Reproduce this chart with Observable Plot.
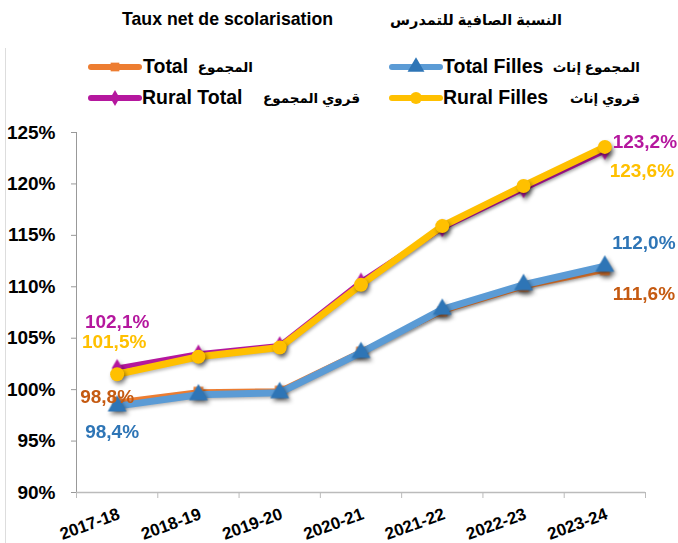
<!DOCTYPE html>
<html><head><meta charset="utf-8">
<script src="https://cdn.jsdelivr.net/npm/d3@7"></script>
<script src="https://cdn.jsdelivr.net/npm/@observablehq/plot@0.6"></script>
<style>
body{margin:0;background:#fff;font-family:"Liberation Sans","DejaVu Sans",Arial,sans-serif;}
#wrap{position:relative;width:678px;height:543px;overflow:hidden;}
.t{position:absolute;font-weight:bold;white-space:nowrap;color:#000;line-height:1;}
.rtl{direction:rtl;}
.sw{position:absolute;}
#border{position:absolute;left:5px;top:48px;width:1px;height:495px;background:#ddd;}
#chart{position:absolute;left:0;top:110px;}
.shadow{filter:drop-shadow(2px 3px 2px rgba(0,0,0,0.45));}
.lshadow{filter:drop-shadow(1px 2px 1.5px rgba(0,0,0,0.25));}
</style></head>
<body><div id="wrap"><div id="border"></div><div id="chart"></div></div>
<script>
const years = ["2017-18","2018-19","2019-20","2020-21","2021-22","2022-23","2023-24"];
const total       = [98.8, 99.8, 99.9, 103.7, 107.6, 110.0, 111.6];
const totalFilles = [98.4, 99.5, 99.7, 103.6, 107.8, 110.2, 112.0];
const ruralTotal  = [102.1, 103.5, 104.3, 110.5, 115.7, 119.5, 123.2];
const ruralFilles = [101.5, 103.2, 104.1, 110.2, 115.9, 119.8, 123.6];
const yTicks = [90, 95, 100, 105, 110, 115, 120, 125];
const titleFr = "Taux net de scolarisation";
const titleAr = "النسبة الصافية للتمدرس";
const seriesNames = ["Total", "Total Filles", "Rural Total", "Rural Filles"];
const seriesNamesAr = ["المجموع", "المجموع إناث", "قروي المجموع", "قروي إناث"];

const C = {
  orange: "#ED7D31", orangeLbl: "#C55A11",
  blue: "#5B9BD5", blueMk: "#2E75B6", blueLbl: "#2E75B6",
  purple: "#B5179E", purpleLbl: "#B5179E",
  yellow: "#FFC000", yellowLbl: "#FFC000"
};
const series = [
  {name: seriesNames[0], values: total, line: C.orange, mk: C.orange, sym: "square", r: 5.5, w: 5},
  {name: seriesNames[1], values: totalFilles, line: C.blue, mk: C.blueMk, sym: "triangle", r: 7, w: 7},
  {name: seriesNames[2], values: ruralTotal, line: C.purple, mk: C.purple, sym: "diamond", r: 5.5, w: 5},
  {name: seriesNames[3], values: ruralFilles, line: C.yellow, mk: C.yellow, sym: "circle", r: 7, w: 7}
];
const rows = s => s.values.map((v, i) => ({i, year: years[i], v}));
const fmt = v => v.toFixed(1).replace(".", ",") + "%";

const labelSpecs = [
  {s: 2, i: 0, fill: C.purpleLbl, dx: 0, dy: -46},
  {s: 3, i: 0, fill: C.yellowLbl, dx: -3, dy: -32},
  {s: 0, i: 0, fill: C.orangeLbl, dx: -10, dy: -5},
  {s: 1, i: 0, fill: C.blueLbl, dx: -5, dy: 26},
  {s: 2, i: 6, fill: C.purpleLbl, dx: 40, dy: -9},
  {s: 3, i: 6, fill: C.yellowLbl, dx: 37, dy: 24},
  {s: 1, i: 6, fill: C.blueLbl, dx: 39, dy: -23},
  {s: 0, i: 6, fill: C.orangeLbl, dx: 39, dy: 24}
];

const marks = [
  Plot.ruleX([0], {y1: 90, y2: 125, stroke: "#999", strokeWidth: 1}),
  Plot.ruleY([90], {x1: 0, x2: 7, stroke: "#bbb", strokeWidth: 1.5}),
  Plot.axisY({ticks: yTicks, label: null, tickSize: 5, tickPadding: 16, tickFormat: d => d + "%", fontSize: 19, fontWeight: "bold", stroke: "#999", fill: "#000"}),
  Plot.axisX({ticks: d3.range(8), label: null, tickSize: 6, tickFormat: () => "", stroke: "#bbb"}),
  Plot.text(years, {x: (d, i) => i + 0.5, y: 90, text: d => d, rotate: -20, textAnchor: "end", dx: 2, dy: 21, fontSize: 17, fontWeight: "bold", fill: "#000"})
];
series.forEach(s => {
  marks.push(Plot.line(rows(s), {x: d => d.i + 0.5, y: "v", stroke: s.line, strokeWidth: s.w, strokeLinejoin: "round", className: "lshadow"}));
  marks.push(Plot.dot(rows(s), {x: d => d.i + 0.5, y: "v", symbol: s.sym, r: s.r, fill: s.mk, stroke: "none", className: "shadow"}));
});
labelSpecs.forEach(L => {
  const s = series[L.s];
  marks.push(Plot.text([{i: L.i, v: s.values[L.i]}], {x: d => d.i + 0.5, y: "v", text: d => fmt(d.v), fill: L.fill, dx: L.dx, dy: L.dy, fontSize: 19, fontWeight: "bold"}));
});

const chart = Plot.plot({
  width: 678, height: 433,
  marginLeft: 76, marginRight: 33, marginTop: 22, marginBottom: 51,
  x: {domain: [0, 7], axis: null},
  y: {domain: [90, 125], axis: null},
  style: {fontFamily: '"Liberation Sans","DejaVu Sans",Arial,sans-serif', background: "transparent", overflow: "visible"},
  marks
});
document.getElementById("chart").appendChild(chart);

const wrap = document.getElementById("wrap");
function addText(txt, opts) {
  const d = document.createElement("div");
  d.className = "t" + (opts.rtl ? " rtl" : "");
  d.textContent = txt;
  d.style.fontSize = opts.size + "px";
  if (opts.left != null) d.style.left = opts.left + "px";
  if (opts.right != null) d.style.right = (678 - opts.right) + "px";
  d.style.top = (opts.cy - opts.size / 2) + "px";
  wrap.appendChild(d);
}
addText(titleFr, {left: 122, cy: 20, size: 17.7});
addText(titleAr, {right: 562, cy: 20, size: 14.5, rtl: true});

const ns = "http://www.w3.org/2000/svg";
function swatch(s, x, cy) {
  const svg = document.createElementNS(ns, "svg");
  svg.setAttribute("width", 54); svg.setAttribute("height", 20);
  svg.setAttribute("class", "sw");
  svg.style.left = x + "px"; svg.style.top = (cy - 10) + "px";
  const ln = document.createElementNS(ns, "line");
  ln.setAttribute("x1", 3); ln.setAttribute("x2", 51); ln.setAttribute("y1", 10); ln.setAttribute("y2", 10);
  ln.setAttribute("stroke", s.line); ln.setAttribute("stroke-width", 6); ln.setAttribute("stroke-linecap", "round");
  svg.appendChild(ln);
  const p = document.createElementNS(ns, "path");
  const symMap = {square: d3.symbolSquare, triangle: d3.symbolTriangle, diamond: d3.symbolDiamond, circle: d3.symbolCircle};
  const size = s.sym === "circle" ? Math.PI * 36 : Math.PI * s.r * s.r * 0.8;
  p.setAttribute("d", d3.symbol(symMap[s.sym], size)());
  p.setAttribute("transform", "translate(27,10)");
  p.setAttribute("fill", s.mk);
  svg.appendChild(p);
  wrap.appendChild(svg);
}
const legendPos = [
  {x: 88, cy: 67, tl: 143, ar: 253},
  {x: 389, cy: 67, tl: 443, ar: 640},
  {x: 88, cy: 98, tl: 142, ar: 360},
  {x: 389, cy: 98, tl: 443, ar: 640}
];
series.forEach((s, k) => {
  const P = legendPos[k];
  swatch(s, P.x, P.cy);
  addText(s.name, {left: P.tl, cy: P.cy, size: 19.5});
  addText(seriesNamesAr[k], {right: P.ar, cy: P.cy + 1, size: 13.5, rtl: true});
});
</script>
</body></html>
